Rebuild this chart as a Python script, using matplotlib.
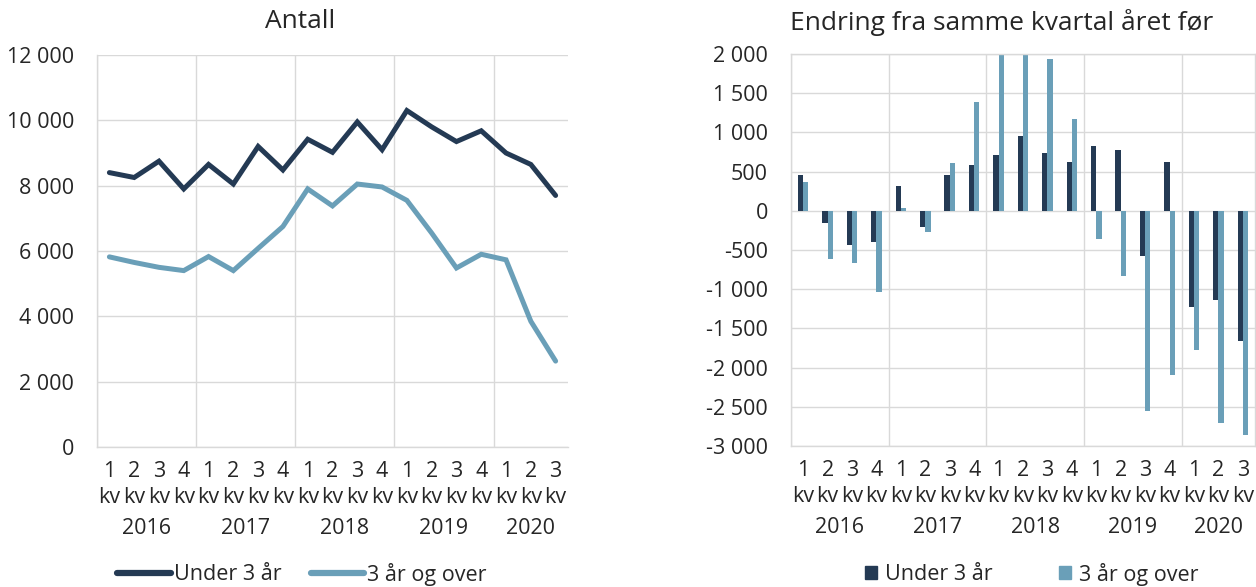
import numpy as np
import matplotlib.pyplot as plt
from matplotlib.patches import Patch
from matplotlib.lines import Line2D

plt.rcParams['font.family'] = ['Open Sans', 'DejaVu Sans']

# data
years = [2016]*4 + [2017]*4 + [2018]*4 + [2019]*4 + [2020]*3
quarters = [1, 2, 3, 4]*4 + [1, 2, 3]

under3 = [8400, 8250, 8750, 7900, 8650, 8050, 9200, 8480, 9420, 9020,
          9950, 9100, 10300, 9800, 9350, 9680, 9000, 8650, 7700]
over3 = [5820, 5650, 5500, 5400, 5830, 5400, 6080, 6750, 7900, 7380,
         8050, 7960, 7550, 6550, 5480, 5900, 5730, 3850, 2630]

chg_under3 = [460, -150, -430, -400, 310, -210, 460, 590, 710, 950,
              740, 620, 830, 770, -580, 620, -1230, -1140, -1660]
chg_over3 = [370, -610, -670, -1040, 30, -270, 610, 1390, 2070, 2040,
             1940, 1170, -360, -830, -2550, -2090, -1780, -2710, -2860]

labels = ["Under 3 år", "3 år og over"]
titles = ["Antall", "Endring fra samme kvartal året før"]

DARK = "#243a54"
LIGHT = "#6a9fb8"
GRID = "#d9d9d9"
TXT = "#262626"
FS = 15.5

W, H = 1256, 587
fig = plt.figure(figsize=(W/100, H/100), dpi=100)
ax1 = fig.add_axes([97/W, 1-447/H, (568-97)/W, (447-55)/H])
ax2 = fig.add_axes([791/W, 1-446/H, (1255-791)/W, (446-54)/H])

x = np.arange(len(years))
uyears = sorted(set(years))
bounds = [x[[i for i, y in enumerate(years) if y == yr][0]] - 0.5 for yr in uyears]


def fmt(v):
    return f"{v:,.0f}".replace(",", " ")


def style(ax, ticks):
    ax.set_xlim(-0.5, len(x) - 0.5)
    ax.set_yticks(ticks)
    ax.set_yticklabels([fmt(t) for t in ticks], fontsize=FS, color=TXT)
    ax.set_ylim(ticks[0], ticks[-1])
    ax.tick_params(axis='y', length=0, pad=16.5)
    ax.set_xticks([])
    ax.yaxis.grid(True, color=GRID, lw=1.0)
    ax.set_axisbelow(True)
    for b in bounds:
        ax.axvline(b, color=GRID, lw=1.0, zorder=0)
    for s in ax.spines.values():
        s.set_color(GRID)
        s.set_linewidth(1.0)
    for i, q in enumerate(quarters):
        ax.annotate(str(q), (x[i], 0), xycoords=('data', 'axes fraction'),
                    xytext=(0, -21.4), textcoords='offset points',
                    ha='center', va='baseline', fontsize=FS, color=TXT)
        ax.annotate("kv", (x[i], 0), xycoords=('data', 'axes fraction'),
                    xytext=(0, -40.6), textcoords='offset points',
                    ha='center', va='baseline', fontsize=FS, color=TXT)
    for yr in uyears:
        c = np.mean([x[i] for i, y in enumerate(years) if y == yr])
        ax.annotate(str(yr), (c, 0), xycoords=('data', 'axes fraction'),
                    xytext=(0, -62.5), textcoords='offset points',
                    ha='center', va='baseline', fontsize=FS, color=TXT)


# left: levels
ax1.plot(x, under3, color=DARK, lw=3.6, solid_capstyle='round', solid_joinstyle='miter')
ax1.plot(x, over3, color=LIGHT, lw=3.6, solid_capstyle='round', solid_joinstyle='miter')
style(ax1, list(range(0, 12001, 2000)))
ax1.spines['right'].set_visible(False)
ax1.spines['top'].set_visible(False)

# right: changes
bw = 0.215
ax2.bar(x - bw/2, chg_under3, width=bw, color=DARK)
ax2.bar(x + bw/2, chg_over3, width=bw, color=LIGHT)
style(ax2, list(range(-3000, 2001, 500)))

fig.text(300/W, 1-22/H, titles[0], ha='center', va='center', fontsize=19, color=TXT)
fig.text(1002/W, 1-22/H, titles[1], ha='center', va='center', fontsize=19, color=TXT)

h1 = [Line2D([], [], color=DARK, lw=4.5, solid_capstyle='round'),
      Line2D([], [], color=LIGHT, lw=4.5, solid_capstyle='round')]
fig.legend(h1, labels, loc='center', bbox_to_anchor=(302/W, 1-574/H), ncol=2,
           frameon=False, fontsize=FS, handlelength=2.5, handletextpad=0.14,
           columnspacing=1.35, labelcolor=TXT, borderpad=0)

h2 = [Patch(color=DARK), Patch(color=LIGHT)]
fig.legend(h2, labels, loc='center', bbox_to_anchor=(1032/W, 1-574/H), ncol=2,
           frameon=False, fontsize=FS, handlelength=0.56, handleheight=0.56,
           handletextpad=0.37, columnspacing=3.1, labelcolor=TXT, borderpad=0)

fig.savefig("out.png", dpi=100)
